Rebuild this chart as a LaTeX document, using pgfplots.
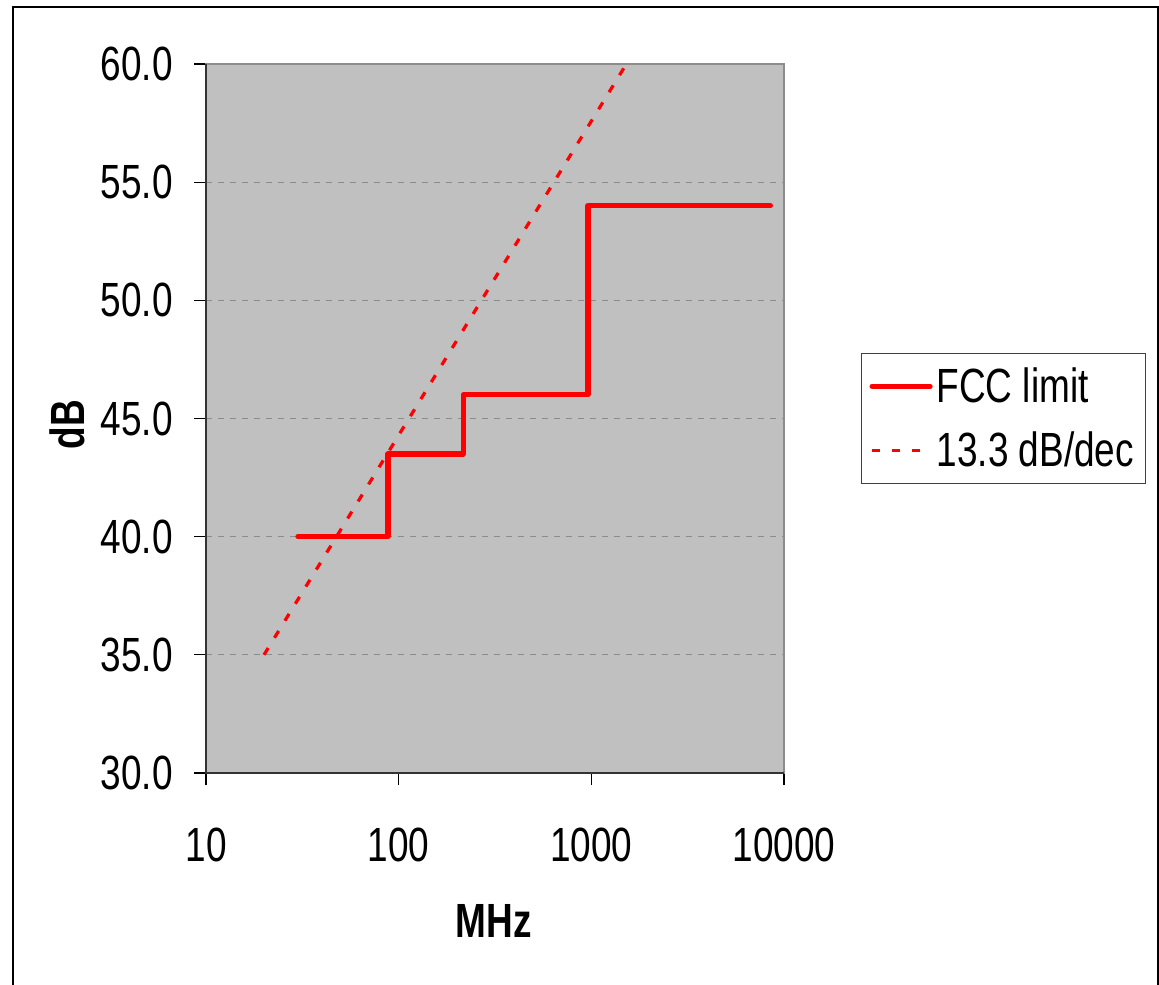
\documentclass[border=0pt]{standalone}
\usepackage{fontspec}
\setmainfont{Liberation Sans}
\usepackage{graphicx}
\usepackage{pgfplots}
\pgfplotsset{compat=1.18}
\definecolor{plotgray}{HTML}{C0C0C0}
\definecolor{gridgray}{HTML}{8C8C8C}
\definecolor{excelred}{HTML}{FF0000}
% narrow text like the original Arial rendering
\newcommand{\nr}[1]{\scalebox{0.77}[1]{#1}}

\begin{document}
\begin{tikzpicture}
\begin{axis}[
    at={(103pt,105.5pt)}, anchor=south west,
    scale only axis,
    width=289pt, height=354.5pt,
    xmode=log,
    xmin=10, xmax=10000,
    ymin=30, ymax=60,
    xtick={10,100,1000,10000},
    xticklabels={\nr{10},\nr{100},\nr{1000},\nr{10000}},
    ytick={30,35,40,45,50,55,60},
    yticklabels={\nr{30.0},\nr{35.0},\nr{40.0},\nr{45.0},\nr{50.0},\nr{55.0},\nr{60.0}},
    minor xtick={},
    log basis x=10,
    ticklabel style={font=\fontsize{24}{28}\selectfont},
    tick align=outside,
    major tick length=6pt,
    tick style={black, line width=0.6pt},
    xtick pos=bottom, ytick pos=left,
    ymajorgrids,
    grid style={gridgray, line width=0.5pt, dash pattern=on 3pt off 3pt},
    axis background/.style={fill=plotgray},
    axis line style={gridgray, line width=0.7pt},
    xticklabel style={yshift=-18pt},
    yticklabel style={anchor=east, inner sep=0pt, xshift=-10.5pt},
    xlabel={\nr{\bfseries MHz}},
    ylabel={\nr{\bfseries dB}},
    every axis x label/.style={at={(axis description cs:0.498,-0.209)}, anchor=center, font=\fontsize{24}{28}\selectfont},
    every axis y label/.style={at={(axis description cs:-0.2405,0.491)}, anchor=center, rotate=90, font=\fontsize{24}{28}\selectfont},
    legend style={at={(axis description cs:1.1332,0.5924)}, anchor=north west,
        draw=black!75, line width=0.5pt, fill=white,
        font=\fontsize{24}{28}\selectfont,
        inner xsep=4pt, inner ysep=5pt,
        row sep=9pt},
    legend cell align=left,
    legend image code/.code={\draw[#1] (0pt,0pt) -- (29pt,0pt);},
    clip=false,
]
\addplot[excelred, line width=2.6pt, line cap=round, line join=round] coordinates {
    (30,40) (88,40) (88,43.5) (216,43.5) (216,46) (960,46) (960,54) (8500,54)
};
\addlegendentry{\nr{FCC limit}}
\addplot[excelred, line width=1.6pt, dash pattern=on 4pt off 6pt] coordinates {
    (20,35) (1520,60)
};
\addlegendentry{\nr{13.3 dB/dec}}
\draw[black!80, line width=0.8pt] (rel axis cs:0,1) -- (rel axis cs:0,0) -- (rel axis cs:1,0);
\end{axis}
\draw[black, line width=0.6pt] (6.5pt,-10pt) -- (6.5pt,488.5pt) -- (579pt,488.5pt) -- (579pt,-10pt);
\pgfresetboundingbox
\path[use as bounding box] (0pt,0pt) rectangle (579.5pt,492pt);
\end{tikzpicture}
\end{document}
